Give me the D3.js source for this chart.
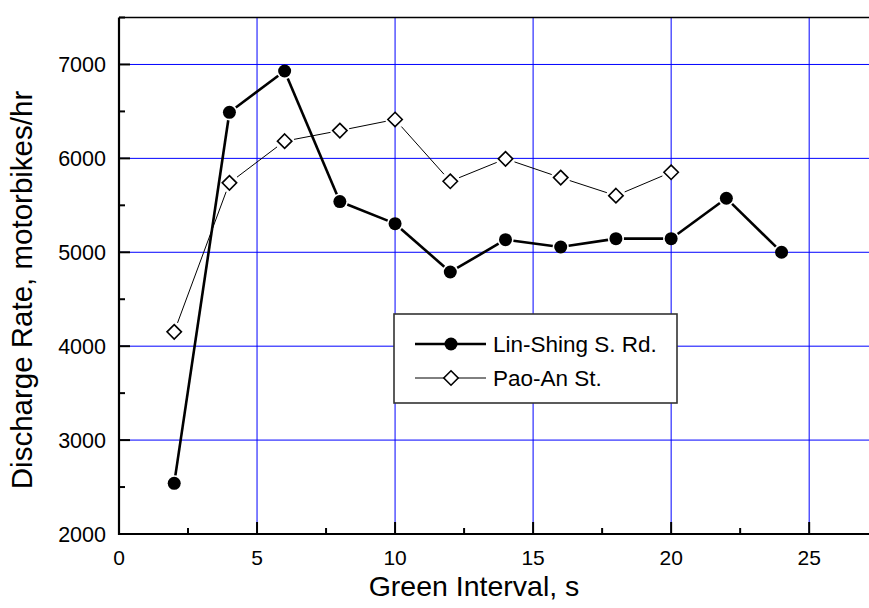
<!DOCTYPE html>
<html><head><meta charset="utf-8">
<script src="https://cdn.jsdelivr.net/npm/d3@7/dist/d3.min.js"></script>
<style>body{margin:0;background:#fff}svg{display:block;font-family:Arial,"Liberation Sans",sans-serif}</style>
</head><body><svg id="c" width="869" height="608"></svg>
<script>
const linX = [2,4,6,8,10,12,14,16,18,20,22,24];
const linY = [2540,6490,6930,5540,5305,4790,5134,5056,5145,5145,5575,5000];
const paoX = [2,4,6,8,10,12,14,16,18,20];
const paoY = [4153,5739,6183,6296,6414,5756,5995,5795,5603,5852];
const xTicks = [0,5,10,15,20,25];
const xMinor = [2.5,7.5,12.5,17.5,22.5,27.5];
const yTicks = [2000,3000,4000,5000,6000,7000];
const yMinor = [2500,3500,4500,5500,6500,7500];
const seriesNames = ["Lin-Shing S. Rd.","Pao-An St."];
const xTitle = "Green Interval, s";
const yTitle = "Discharge Rate, motorbikes/hr";

const svg = d3.select("#c");
const L=119, T=17.5, B=534, R=892;
const x = d3.scaleLinear().domain([0,28]).range([L,R]);
const y = d3.scaleLinear().domain([2000,7500]).range([B,T]);

// grid
const g = svg.append("g");
g.selectAll(".vg").data(xTicks.filter(d=>d>0)).enter().append("line")
 .attr("x1",d=>x(d)).attr("x2",d=>x(d)).attr("y1",T).attr("y2",B)
 .attr("stroke","#0000ff").attr("stroke-width",1);
g.selectAll(".hg").data(yTicks.filter(d=>d>2000)).enter().append("line")
 .attr("x1",L).attr("x2",R).attr("y1",d=>y(d)).attr("y2",d=>y(d))
 .attr("stroke","#0000ff").attr("stroke-width",1);

// gapped segments
function drawSeries(xs, ys, width, gap){
  const pts = xs.map((v,i)=>[x(v), y(ys[i])]);
  for(let i=0;i<pts.length-1;i++){
    const [x1,y1]=pts[i],[x2,y2]=pts[i+1];
    const dx=x2-x1, dy=y2-y1, len=Math.hypot(dx,dy);
    const ux=dx/len, uy=dy/len;
    svg.append("line").attr("x1",x1+ux*gap).attr("y1",y1+uy*gap)
      .attr("x2",x2-ux*gap).attr("y2",y2-uy*gap)
      .attr("stroke","#000").attr("stroke-width",width);
  }
  return pts;
}
const pLin = drawSeries(linX, linY, 2.6, 8);
const pPao = drawSeries(paoX, paoY, 1, 9.5);

svg.selectAll(".lin").data(pLin).enter().append("circle")
 .attr("cx",d=>d[0]).attr("cy",d=>d[1]).attr("r",6.5).attr("fill","#000");
const dia = 7.2;
function diamond(cx,cy){return `M${cx},${cy-dia}L${cx+dia},${cy}L${cx},${cy+dia}L${cx-dia},${cy}Z`;}
svg.selectAll(".pao").data(pPao).enter().append("path")
 .attr("d",d=>diamond(d[0],d[1])).attr("fill","#fff").attr("stroke","#000").attr("stroke-width",1.6);

// frame & axes
svg.append("line").attr("x1",L).attr("x2",R).attr("y1",T).attr("y2",T).attr("stroke","#000").attr("stroke-width",1.3);
svg.append("line").attr("x1",L).attr("x2",L).attr("y1",T).attr("y2",B+1).attr("stroke","#000").attr("stroke-width",2.2);
svg.append("line").attr("x1",L-1).attr("x2",R).attr("y1",B).attr("y2",B).attr("stroke","#000").attr("stroke-width",2.2);

// y ticks (inward)
svg.selectAll(".yt").data(yTicks).enter().append("line")
 .attr("x1",L).attr("x2",L+11).attr("y1",d=>y(d)).attr("y2",d=>y(d)).attr("stroke","#000").attr("stroke-width",2);
svg.selectAll(".ym").data(yMinor).enter().append("line")
 .attr("x1",L).attr("x2",L+6).attr("y1",d=>y(d)).attr("y2",d=>y(d)).attr("stroke","#000").attr("stroke-width",2);
svg.selectAll(".yl").data(yTicks).enter().append("text")
 .attr("x",L-13).attr("y",d=>y(d)).attr("dy","0.36em").attr("text-anchor","end")
 .attr("font-size",21.5).text(d=>d);

// x ticks (inward)
svg.selectAll(".xt").data(xTicks).enter().append("line")
 .attr("x1",d=>x(d)).attr("x2",d=>x(d)).attr("y1",B).attr("y2",B-12).attr("stroke","#000").attr("stroke-width",2);
svg.selectAll(".xm").data(xMinor).enter().append("line")
 .attr("x1",d=>x(d)).attr("x2",d=>x(d)).attr("y1",B).attr("y2",B-6).attr("stroke","#000").attr("stroke-width",2);
svg.selectAll(".xl").data(xTicks).enter().append("text")
 .attr("x",d=>x(d)).attr("y",564.5).attr("text-anchor","middle")
 .attr("font-size",21).text(d=>d);

// titles
svg.append("text").attr("x",474).attr("y",595.5).attr("text-anchor","middle").attr("font-size",28.5).text(xTitle);
svg.append("text").attr("transform","translate(32,290) rotate(-90)").attr("text-anchor","middle").attr("font-size",29.5).text(yTitle);

// legend
const lg = svg.append("g");
lg.append("rect").attr("x",394).attr("y",314).attr("width",283).attr("height",89)
 .attr("fill","#fff").attr("stroke","#333").attr("stroke-width",1.6);
const rows=[{y:344,w:2.6,type:"c"},{y:378,w:1,type:"d"}];
rows.forEach((r,i)=>{
  lg.append("line").attr("x1",415).attr("x2",486).attr("y1",r.y).attr("y2",r.y).attr("stroke","#000").attr("stroke-width",r.w);
  if(r.type==="c") lg.append("circle").attr("cx",451).attr("cy",r.y).attr("r",6.5).attr("fill","#000");
  else lg.append("path").attr("d",diamond(451,r.y)).attr("fill","#fff").attr("stroke","#000").attr("stroke-width",1.6);
  lg.append("text").attr("x",493).attr("y",r.y).attr("dy","0.36em").attr("font-size",22.5).text(seriesNames[i]);
});
</script></body></html>
